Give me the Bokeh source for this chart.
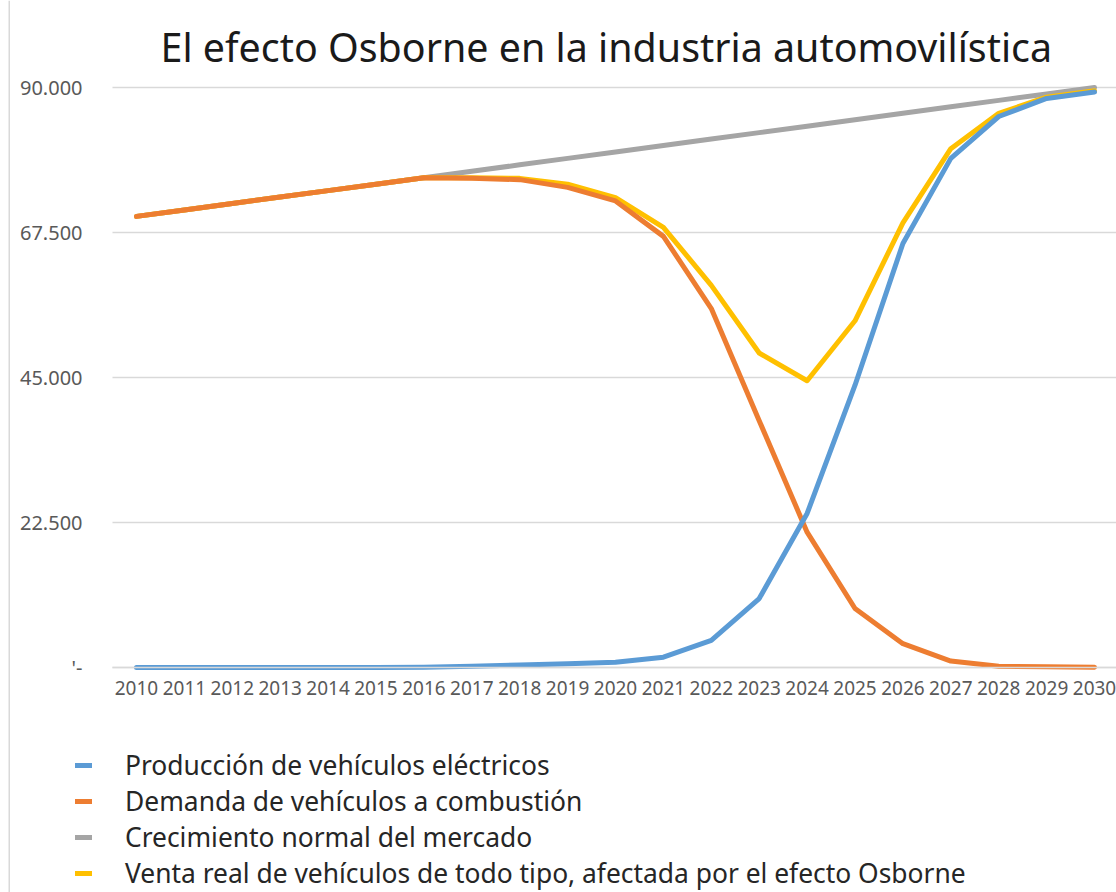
from bokeh.plotting import figure
from bokeh.models import (Range1d, FixedTicker, Legend, LegendItem, BoxAnnotation, Label)
from bokeh.embed import file_html
from bokeh.resources import INLINE

years = [2010, 2011, 2012, 2013, 2014, 2015, 2016, 2017, 2018, 2019, 2020,
         2021, 2022, 2023, 2024, 2025, 2026, 2027, 2028, 2029, 2030]
electricos = [0, 0, 0, 0, 0, 0, 50, 200, 400, 600, 800,
              1600, 4200, 10700, 23900, 43800, 65800, 79000, 85500, 88300, 89300]
combustion = [70000, 71000, 72000, 73000, 74000, 75000, 76000, 75900, 75700, 74500, 72400,
              66900, 55700, 38300, 21000, 9150, 3700, 1000, 200, 100, 50]
crecimiento = [70000, 71000, 72000, 73000, 74000, 75000, 76000, 77000, 78000, 79000, 80000,
               81000, 82000, 83000, 84000, 85000, 86000, 87000, 88000, 89000, 90000]
venta_real = [70000, 71000, 72000, 73000, 74000, 75000, 76000, 76000, 75900, 75000, 72900,
              68300, 59300, 48800, 44500, 53800, 69000, 80500, 86000, 88500, 89500]

y_ticks = [0, 22500, 45000, 67500, 90000]
y_labels = ["'-", "22.500", "45.000", "67.500", "90.000"]

title_text = "El efecto Osborne en la industria automovilística"
series_names = ["Producción de vehículos eléctricos",
                "Demanda de vehículos a combustión",
                "Crecimiento normal del mercado",
                "Venta real de vehículos de todo tipo, afectada por el efecto Osborne"]
series_colors = ["#5B9BD5", "#ED7D31", "#A5A5A5", "#FFC000"]

FONT = "Noto Sans"

# visible plot area (in data units): left edge of the grid, right edge
X_LO, X_HI = 2009.5, 2030.46

p = figure(width=1116, height=892, output_backend="svg", toolbar_location=None,
           x_range=Range1d(2007.161, 2030.459), y_range=Range1d(-34914, 103500),
           min_border_left=0, min_border_right=0, min_border_top=0,
           min_border_bottom=0)

p.outline_line_color = None
p.background_fill_color = "white"
p.border_fill_color = "white"

# x axis placed at y = 0
p.xaxis.fixed_location = 0
p.xaxis.bounds = (X_LO, X_HI)
p.xaxis.ticker = FixedTicker(ticks=years)
p.xaxis.major_label_text_font = FONT
p.xaxis.major_label_text_font_size = "19px"
p.xaxis.major_label_text_color = "#595959"
p.xaxis.major_tick_line_color = None
p.xaxis.minor_tick_line_color = None
p.xaxis.major_tick_out = 0
p.xaxis.major_tick_in = 0
p.xaxis.axis_line_color = "#d9d9d9"
p.xaxis.axis_line_width = 1.5
p.xaxis.major_label_standoff = 14

# y axis placed at the left edge of the grid
p.yaxis.fixed_location = X_LO
p.yaxis.ticker = FixedTicker(ticks=y_ticks)
p.yaxis.major_label_overrides = {t: l for t, l in zip(y_ticks, y_labels)}
p.yaxis.major_label_text_font = FONT
p.yaxis.major_label_text_font_size = "20px"
p.yaxis.major_label_text_color = "#595959"
p.yaxis.major_tick_line_color = None
p.yaxis.minor_tick_line_color = None
p.yaxis.major_tick_out = 0
p.yaxis.major_tick_in = 0
p.yaxis.axis_line_color = None
p.yaxis.major_label_standoff = 30

p.xgrid.grid_line_color = None
p.ygrid.ticker = FixedTicker(ticks=y_ticks)
p.ygrid.cross_bounds = (X_LO, X_HI)
p.ygrid.grid_line_color = "#d9d9d9"
p.ygrid.grid_line_width = 1.5

lw = 5
r_grey = p.line(years, crecimiento, line_color=series_colors[2], line_width=lw,
                line_join="round", line_cap="round")
r_yellow = p.line(years, venta_real, line_color=series_colors[3], line_width=lw,
                  line_join="round", line_cap="round")
r_orange = p.line(years, combustion, line_color=series_colors[1], line_width=lw,
                  line_join="round", line_cap="round")
r_blue = p.line(years, electricos, line_color=series_colors[0], line_width=lw,
                line_join="round", line_cap="round")

# title
title = Label(x=160, y=846, x_units="screen", y_units="screen", text=title_text,
              text_font=FONT, text_font_size="39.4px", text_color="#1a1a1a",
              text_baseline="alphabetic", text_align="left")
p.add_layout(title)

legend = Legend(items=[LegendItem(label=series_names[0], renderers=[r_blue]),
                       LegendItem(label=series_names[1], renderers=[r_orange]),
                       LegendItem(label=series_names[2], renderers=[r_grey]),
                       LegendItem(label=series_names[3], renderers=[r_yellow])],
                location=(75, 1))
legend.label_text_font = FONT
legend.label_text_font_size = "26.4px"
legend.label_text_color = "#262626"
legend.glyph_width = 17
legend.glyph_height = 36
legend.label_height = 36
legend.label_standoff = 33
legend.spacing = 0
legend.padding = 0
legend.margin = 0
legend.border_line_color = None
legend.background_fill_alpha = 0
p.add_layout(legend, "center")

# thin chart border on the left edge
border = BoxAnnotation(left=8, right=9.5, top=0, bottom=892,
                       left_units="screen", right_units="screen",
                       top_units="screen", bottom_units="screen",
                       fill_color="#d9d9d9", fill_alpha=1, line_color=None)
p.add_layout(border)

open("out.html", "w").write(file_html(p, INLINE))
